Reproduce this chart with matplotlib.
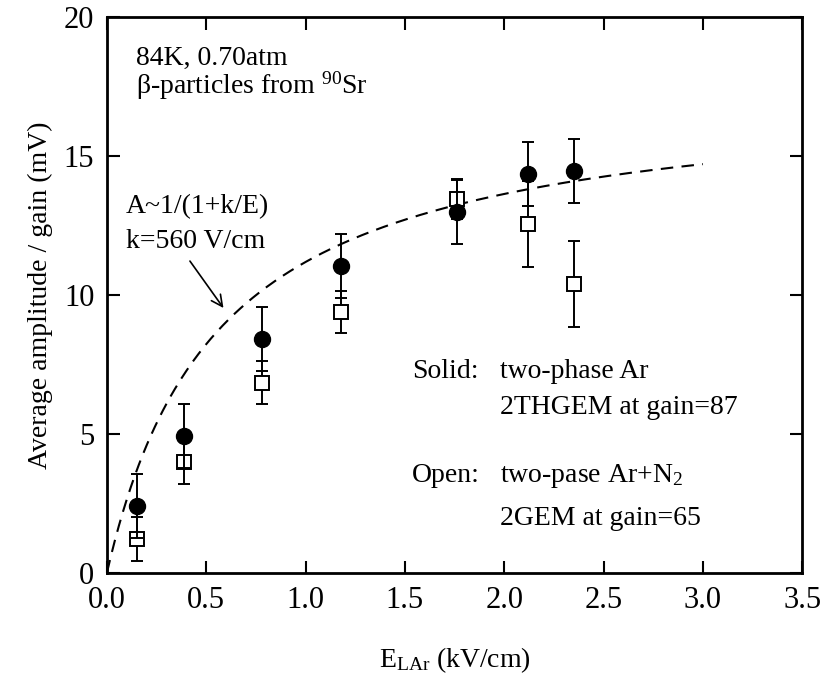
import numpy as np
import matplotlib
matplotlib.use("Agg")
import matplotlib.pyplot as plt

plt.rcParams["font.family"] = ["Liberation Serif", "DejaVu Serif"]
plt.rcParams["mathtext.fontset"] = "custom"
plt.rcParams["mathtext.rm"] = "Liberation Serif"
plt.rcParams["mathtext.it"] = "Liberation Serif:italic"

# --- data ---
field = [0.15, 0.39, 0.78, 1.18, 1.76, 2.12, 2.35]          # kV/cm
solid_amp = [2.40, 4.92, 8.40, 11.05, 13.00, 14.35, 14.45]    # two-phase Ar, 2THGEM
solid_err = [1.15, 1.15, 1.15, 1.15, 1.15, 1.15, 1.15]
open_amp = [1.22, 4.00, 6.85, 9.40, 13.45, 12.55, 10.40]      # Ar+N2, 2GEM
open_err = [0.78, 0.78, 0.78, 0.75, 0.72, 1.55, 1.55]

k_fit = 0.56      # kV/cm
a0_fit = 17.45    # mV

e_fit = np.linspace(0.001, 3.0, 300)
a_fit = a0_fit / (1 + k_fit / e_fit)

fig = plt.figure(figsize=(8.22, 6.75), dpi=100)
ax = fig.add_axes([0.130, 0.151, 0.846, 0.824])

ax.plot(e_fit, a_fit, color="black", lw=1.5, dashes=(6, 4))

ax.errorbar(field, open_amp, yerr=open_err, fmt="s", ms=10,
            mfc="white", mec="black", mew=1.4, ecolor="black", elinewidth=1.4,
            capsize=4.5, capthick=1.4, zorder=3)
ax.errorbar(field, solid_amp, yerr=solid_err, fmt="o", ms=11.5,
            mfc="black", mec="black", ecolor="black", elinewidth=1.4,
            capsize=4.5, capthick=1.4, zorder=4)

ax.set_xlim(0, 3.5)
ax.set_ylim(0, 20)
ax.set_xticks(np.arange(0, 3.51, 0.5))
ax.set_yticks([0, 5, 10, 15, 20])
ax.set_xticklabels([f"{v:.1f}" for v in np.arange(0, 3.51, 0.5)])
ax.tick_params(direction="in", length=9, width=1.5, top=True, right=True,
               labelsize=22, pad=9)
for s in ax.spines.values():
    s.set_linewidth(2)

ax.set_xlabel("E$_{\\mathrm{LAr}}$ (kV/cm)", fontsize=20, labelpad=22)
ax.set_ylabel("Average amplitude / gain (mV)", fontsize=20, labelpad=8)

fs = 20
ax.text(0.145, 18.27, "84K, 0.70atm", fontsize=fs)
ax.text(0.145, 17.25, "β-particles from $^{\\mathrm{90}}$Sr", fontsize=fs)

ax.text(0.095, 12.95, "A~1/(1+k/E)", fontsize=fs)
ax.text(0.095, 11.7, "k=560 V/cm", fontsize=fs)
ax.annotate("", xy=(0.595, 9.45), xytext=(0.41, 11.3),
            arrowprops=dict(arrowstyle="->", color="black", lw=1.2,
                            mutation_scale=20))

ax.text(1.535, 7.0, "Solid:", fontsize=fs)
ax.text(1.98, 7.0, "two-phase Ar", fontsize=fs)
ax.text(1.98, 5.72, "2THGEM at gain=87", fontsize=fs)
ax.text(1.535, 3.27, "Open:", fontsize=fs)
ax.text(1.98, 3.27, "two-pase Ar+N$_{\\mathrm{2}}$", fontsize=fs)
ax.text(1.98, 1.72, "2GEM at gain=65", fontsize=fs)

fig.savefig("out.png", dpi=100)
